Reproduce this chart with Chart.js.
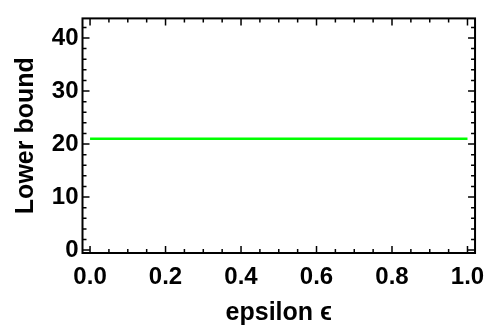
<!DOCTYPE html>
<html>
<head>
<meta charset="utf-8">
<script src="https://cdn.jsdelivr.net/npm/chart.js@4.4.1/dist/chart.umd.min.js"></script>
<style>
  html, body { margin: 0; padding: 0; background: #fff; }
  #wrap { width: 494px; height: 331px; }
</style>
</head>
<body>
<div id="wrap"><canvas id="myChart"></canvas></div>
<script>
// data
var epsilon = [0, 1];
var lowerBound = [21, 21];
var xTicks = [0, 0.2, 0.4, 0.6, 0.8, 1.0];
var yTicks = [0, 10, 20, 30, 40];

// Mathematica style frame with inward ticks on all four sides
var frameTicks = {
  id: 'frameTicks',
  afterDraw: function(chart) {
    var ctx = chart.ctx, a = chart.chartArea;
    var xs = chart.scales.x, ys = chart.scales.y;
    ctx.save();
    ctx.strokeStyle = '#000';
    ctx.lineWidth = 1.5;
    ctx.beginPath();
    for (var i = 0; i <= 20; i++) {
      var px = xs.getPixelForValue(i * 0.05);
      var len = (i % 4 === 0) ? 7 : 4;
      ctx.moveTo(px, a.bottom); ctx.lineTo(px, a.bottom - len);
      ctx.moveTo(px, a.top); ctx.lineTo(px, a.top + len);
    }
    for (var j = 0; j <= 42; j += 2) {
      var py = ys.getPixelForValue(j);
      var l2 = (j % 10 === 0) ? 7 : 4;
      ctx.moveTo(a.left, py); ctx.lineTo(a.left + l2, py);
      ctx.moveTo(a.right, py); ctx.lineTo(a.right - l2, py);
    }
    ctx.stroke();
    ctx.lineWidth = 2;
    ctx.strokeRect(a.left, a.top, a.right - a.left, a.bottom - a.top);
    ctx.restore();
  }
};

var tickFont = { family: '"Liberation Sans", Arial, sans-serif', size: 24, weight: 'bold' };
var titleFont = { family: '"Liberation Sans", Arial, sans-serif', size: 25, weight: 'bold' };

var ctx = document.getElementById('myChart');
var myChart = new Chart(ctx, {
  type: 'line',
  data: {
    datasets: [{
      data: epsilon.map(function(e, i) { return { x: e, y: lowerBound[i] }; }),
      borderColor: '#00ff00',
      borderWidth: 2.5,
      pointRadius: 0,
      fill: false
    }]
  },
  options: {
    responsive: true,
    maintainAspectRatio: false,
    animation: false,
    layout: { padding: { top: 11, right: 17, left: 0, bottom: 0 } },
    plugins: {
      legend: { display: false },
      tooltip: { enabled: false }
    },
    scales: {
      x: {
        type: 'linear',
        min: -0.02,
        max: 1.02,
        afterBuildTicks: function(s) { s.ticks = xTicks.map(function(v) { return { value: v }; }); },
        afterFit: function(s) { s.height = 78; },
        grid: { display: false, drawTicks: false },
        border: { display: false },
        ticks: {
          color: '#000',
          font: tickFont,
          padding: 9.5,
          maxRotation: 0,
          callback: function(v) { return Number(v).toFixed(1); }
        },
        title: {
          display: true,
          text: 'epsilon \u03f5',
          color: '#000',
          font: titleFont,
          padding: { top: 0, bottom: 3 }
        }
      },
      y: {
        type: 'linear',
        min: -0.55,
        max: 43.7,
        afterBuildTicks: function(s) { s.ticks = yTicks.map(function(v) { return { value: v }; }); },
        afterFit: function(s) { s.width = 82.5; },
        grid: { display: false, drawTicks: false },
        border: { display: false },
        ticks: {
          color: '#000',
          font: tickFont,
          padding: 4,
          callback: function(v) { return String(v); }
        },
        title: {
          display: true,
          text: 'Lower bound',
          color: '#000',
          font: titleFont,
          padding: { top: 11, bottom: 0 }
        }
      }
    }
  },
  plugins: [frameTicks]
});
</script>
</body>
</html>
